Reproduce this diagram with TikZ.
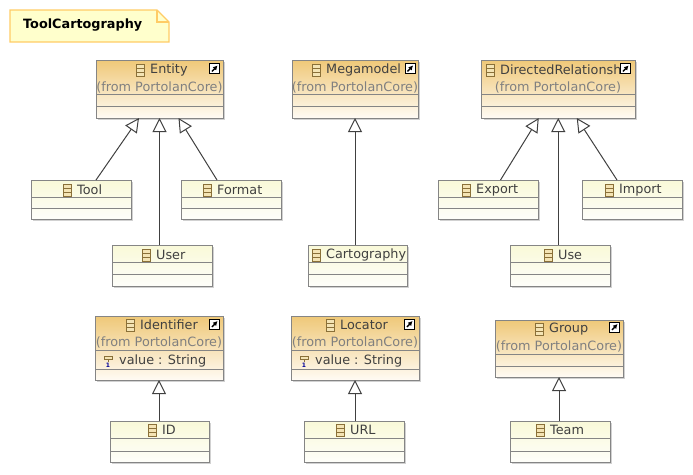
\documentclass[tikz,border=0pt]{standalone}
\usepackage{fontspec}
\setmainfont{DejaVu Sans}
\usepackage{xcolor}
\usetikzlibrary{positioning,shadows,arrows.meta}
\definecolor{boxline}{HTML}{858585}
\definecolor{linkline}{HTML}{404040}
\definecolor{importtop}{HTML}{EFC878}
\definecolor{importbot}{HTML}{FFFBF4}
\definecolor{localtop}{HTML}{F9F9D8}
\definecolor{localbot}{HTML}{FEFEFA}
\definecolor{notefill}{HTML}{FFFFCC}
\definecolor{noteline}{HTML}{FFCC66}
\definecolor{icontan}{HTML}{8A7038}
\definecolor{iconfill}{HTML}{F4E4B4}
\tikzset{
  classbox/.style={draw=boxline, line width=0.85pt, inner sep=0pt, outer sep=0pt,
    drop shadow={shadow xshift=2pt, shadow yshift=-2pt, fill=black!18, opacity=1}},
  importbox/.style={classbox, top color=importtop, bottom color=importbot},
  localbox/.style={classbox, top color=localtop, bottom color=localbot},
  classname/.style={anchor=west, inner sep=0pt, yshift=-1pt, text=black!75, font=\fontsize{12.8}{15}\selectfont},
  fromname/.style={anchor=center, inner sep=0pt, yshift=-1pt, text=black!50, font=\fontsize{12.8}{15}\selectfont},
  generalize/.style={draw=linkline, line width=1pt, -{Triangle[open, fill=white, length=14pt, width=14pt]}},
  classicon/.pic={
    \draw[draw=icontan, fill=iconfill, line width=0.8pt] (-4,-6) rectangle (4,6);
    \draw[draw=icontan, line width=0.8pt] (-4,-2) -- (4,-2) (-4,2) -- (4,2);
  },
  shortcut/.pic={
    \draw[black, fill=white, line width=0.8pt] (-5,-5) rectangle (5,5);
    \draw[black, line width=1.4pt, -{Latex[length=4.5pt, width=5pt]}] (-2.5,3) -- (3,-3);
  },
  attricon/.pic={
    \draw[draw=icontan, fill=iconfill, line width=0.8pt] (-4,-5) rectangle (4,-1.5);
    \draw[draw=icontan, line width=0.8pt] (0,-1.5) -- (0,0.5);
    \node[inner sep=0pt, text=blue!60!black, font=\fontsize{6}{6}\bfseries\selectfont] at (0,4) {1};
  },
}
% name, style, left, top, right, bottom, first and second separator
\newcommand{\classnode}[8]{
  \node[#2, minimum width=#5pt-#3pt, minimum height=#6pt-#4pt] (#1) at ({(#3+#5)/2},{(#4+#6)/2}) {};
  \draw[boxline, line width=0.85pt] (#3,#7) -- (#5,#7) (#3,#8) -- (#5,#8);
}
% node name, text, text left, text middle
\newcommand{\classtitle}[4]{
  \node[classname] (#1) at (#3,#4) {#2};
  \pic at ([xshift=-10pt]#1.west) {classicon};
}
\begin{document}
\begin{tikzpicture}[x=1pt,y=-1pt]
  \useasboundingbox (0,0) rectangle (693,474);

  % title note
  \draw[noteline, fill=notefill, line width=1.1pt] (10,10) -- (157,10) -- (169,22) -- (169,42) -- (10,42) -- cycle;
  \draw[noteline, line width=1.1pt] (157,10) -- (157,22) -- (169,22);
  \node[anchor=west, inner sep=0pt, font=\fontsize{12.8}{15}\bfseries\selectfont] (title) at (23,25) {ToolCartography};

  % classes from PortolanCore
  \classnode{entity}{importbox}{96}{60}{223}{118}{94}{106.5}
  \classtitle{entityname}{Entity}{150}{69}
  \node[fromname] (entityfrom) at (159.5,86) {(from PortolanCore)};
  \pic at (214.5,68.5) {shortcut};

  \classnode{mega}{importbox}{292}{60}{418}{118}{94}{106.5}
  \classtitle{meganame}{Megamodel}{326}{69}
  \node[fromname] (megafrom) at (355,86) {(from PortolanCore)};
  \pic at (410,68.5) {shortcut};

  \classnode{directed}{importbox}{481.5}{60}{635}{118}{94}{106.5}
  \classtitle{directedname}{DirectedRelationsh}{500}{69}
  \node[fromname] (directedfrom) at (558,86) {(from PortolanCore)};
  \pic at (625.5,68.5) {shortcut};

  \classnode{ident}{importbox}{95}{316}{223}{380}{350}{369}
  \classtitle{identname}{Identifier}{140}{324}
  \node[fromname] (identfrom) at (159,341) {(from PortolanCore)};
  \pic at (214.5,324) {shortcut};
  \pic at (108,361) {attricon};
  \node[classname] (identvalue) at (119,360) {value : String};

  \classnode{locator}{importbox}{291}{316}{419}{380}{350}{369}
  \classtitle{locatorname}{Locator}{340}{324}
  \node[fromname] (locatorfrom) at (355,341) {(from PortolanCore)};
  \pic at (409.5,324) {shortcut};
  \pic at (304,361) {attricon};
  \node[classname] (locatorvalue) at (315,360) {value : String};

  \classnode{group}{importbox}{495}{320}{623}{377}{354}{366}
  \classtitle{groupname}{Group}{549}{328}
  \node[fromname] (groupfrom) at (559,345) {(from PortolanCore)};
  \pic at (614.5,327) {shortcut};

  % local classes
  \classnode{tool}{localbox}{31}{180}{131}{219}{197}{208}
  \classtitle{toolname}{Tool}{77}{189}
  \classnode{format}{localbox}{181}{180}{281}{219}{197}{208}
  \classtitle{formatname}{Format}{217}{189}
  \classnode{user}{localbox}{112}{245}{212}{286}{262}{274}
  \classtitle{username}{User}{156}{254}
  \classnode{carto}{localbox}{308}{245}{407}{286}{262}{274}
  \classtitle{cartoname}{Cartography}{326}{254}
  \classnode{export}{localbox}{438}{180}{538}{219}{197}{208}
  \classtitle{exportname}{Export}{476}{189}
  \classnode{use}{localbox}{510}{245}{610}{286}{262}{274}
  \classtitle{usename}{Use}{558}{254}
  \classnode{import}{localbox}{582}{180}{682}{219}{197}{208}
  \classtitle{importname}{Import}{619}{189}
  \classnode{id}{localbox}{110}{421}{209}{462}{438}{451}
  \classtitle{idname}{ID}{162}{429}
  \classnode{url}{localbox}{304}{421}{404}{462}{438}{451}
  \classtitle{urlname}{URL}{350}{429}
  \classnode{team}{localbox}{510}{421}{610}{462}{438}{451}
  \classtitle{teamname}{Team}{550}{429}

  % generalizations
  \draw[generalize] ([xshift=15pt]tool.north) -- ([xshift=-20.5pt]entity.south);
  \draw[generalize] (entity.south |- user.north) -- (entity.south);
  \draw[generalize] ([xshift=-14pt]format.north) -- ([xshift=19pt]entity.south);
  \draw[generalize] (mega.south |- carto.north) -- (mega.south);
  \draw[generalize] ([xshift=12.5pt]export.north) -- ([xshift=-19.5pt]directed.south);
  \draw[generalize] (directed.south |- use.north) -- (directed.south);
  \draw[generalize] ([xshift=-15pt]import.north) -- ([xshift=18.5pt]directed.south);
  \draw[generalize] (ident.south |- id.north) -- (ident.south);
  \draw[generalize] (locator.south |- url.north) -- (locator.south);
  \draw[generalize] (group.south |- team.north) -- (group.south);
\end{tikzpicture}
\end{document}
